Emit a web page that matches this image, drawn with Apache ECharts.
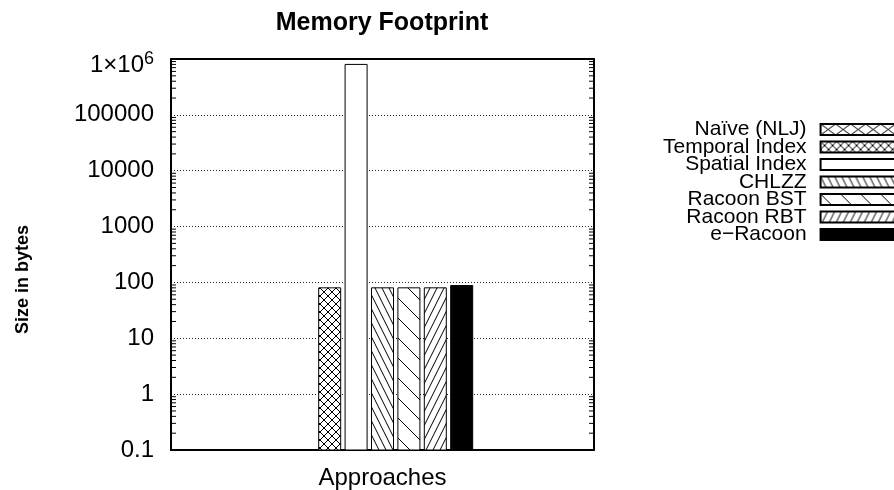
<!DOCTYPE html>
<html>
<head>
    <meta charset="utf-8" />
    <title>Memory Footprint</title>
    <style>
        html, body { margin: 0; padding: 0; background: #fff; }
    </style>
</head>
<body>
    <div id="main" style="width:894px;height:490px;"></div>
    <script src="https://cdn.jsdelivr.net/npm/echarts@6/dist/echarts.min.js"></script>
    <script type="text/javascript">
        // data
        var categories = ['Approaches'];
        var approaches = ['Naïve (NLJ)', 'Temporal Index', 'Spatial Index', 'CHLZZ', 'Racoon BST', 'Racoon RBT', 'e\u2212Racoon'];
        var sizes = [null, 80, 800000, 80, 80, 80, 88];   // bytes, Naïve has no bar
        var yTicks = [0.1, 1, 10, 100, 1000, 10000, 100000, 1000000];
        var minorSteps = [2, 3, 4, 5, 6, 7, 8, 9];

        var FONT = '"Liberation Sans", Arial, Helvetica, sans-serif';
        var BAR_W = 22, BAR_STEP = 26.4;

        // hatch tiles like gnuplot fill patterns
        function hatch(w, h, dirs) {
            var c = document.createElement('canvas');
            c.width = w; c.height = h;
            var g = c.getContext('2d');
            g.fillStyle = '#fff';
            g.fillRect(0, 0, w, h);
            g.strokeStyle = '#000';
            g.lineWidth = 1;
            dirs.forEach(function (d) {
                for (var k = -1; k <= 1; k++) {
                    g.beginPath();
                    if (d === '\\') { g.moveTo(k * w, 0); g.lineTo(k * w + w, h); }
                    else { g.moveTo(k * w + w, 0); g.lineTo(k * w, h); }
                    g.stroke();
                }
            });
            return { image: c, repeat: 'repeat' };
        }

        var fills = [
            hatch(15, 11, ['\\', '/']),
            hatch(8, 8, ['\\', '/']),
            '#fff',
            hatch(7, 14, ['\\']),
            hatch(20, 20, ['\\']),
            hatch(7, 14, ['/']),
            '#000'
        ];

        var minorTicks = [];
        yTicks.slice(0, -1).forEach(function (t) {
            minorSteps.forEach(function (m) { minorTicks.push([0, t * m]); });
        });

        var chart = echarts.init(document.getElementById('main'));

        // bars as custom rects so they start at the bottom of the log axis
        var series = approaches.map(function (name, i) {
            return {
                name: name,
                type: 'custom',
                data: sizes[i] == null ? [] : [[0, sizes[i]]],
                itemStyle: { color: fills[i], borderColor: '#000', borderWidth: 1 },
                renderItem: function (params, api) {
                    var top = api.coord([api.value(0), api.value(1)]);
                    var base = api.coord([api.value(0), yTicks[0]]);
                    var x = top[0] + (i - (approaches.length - 1) / 2) * BAR_STEP - BAR_W / 2;
                    return {
                        type: 'rect',
                        shape: { x: x, y: top[1], width: BAR_W, height: base[1] - top[1] },
                        style: api.style()
                    };
                }
            };
        });

        // log minor ticks on both sides of the frame
        series.push({
            type: 'custom',
            name: 'minor',
            silent: true,
            z: 5,
            data: minorTicks,
            renderItem: function (params, api) {
                var y = api.coord([0, api.value(1)])[1];
                var cs = params.coordSys;
                var st = { stroke: '#000', lineWidth: 1 };
                return {
                    type: 'group',
                    children: [
                        { type: 'line', shape: { x1: cs.x, y1: y, x2: cs.x + 5, y2: y }, style: st },
                        { type: 'line', shape: { x1: cs.x + cs.width - 5, y1: y, x2: cs.x + cs.width, y2: y }, style: st }
                    ]
                };
            }
        });

        var option = {
            animation: false,
            textStyle: { fontFamily: FONT, color: '#000' },
            title: {
                text: 'Memory Footprint',
                left: 382,
                textAlign: 'center',
                top: 11,
                padding: 0,
                textStyle: { fontFamily: FONT, fontSize: 25, fontWeight: 'bold', color: '#000' }
            },
            legend: {
                data: approaches,
                orient: 'vertical',
                align: 'right',
                left: 658,
                top: 114,
                icon: 'rect',
                itemWidth: 80,
                itemHeight: 11,
                itemGap: -3.5,
                textStyle: { fontFamily: FONT, fontSize: 21, color: '#000', padding: [0, 9, 0, 0] }
            },
            grid: { left: 171, top: 59, width: 423, height: 391 },
            xAxis: [{
                type: 'category',
                data: categories,
                position: 'bottom',
                axisLine: { onZero: false, lineStyle: { color: '#000', width: 2 } },
                axisTick: { inside: true, alignWithLabel: true, length: 9, lineStyle: { color: '#000' } },
                axisLabel: { fontFamily: FONT, fontSize: 24, color: '#000', margin: 16 }
            }, {
                type: 'category',
                data: categories,
                position: 'top',
                axisLine: { onZero: false, lineStyle: { color: '#000', width: 2 } },
                axisTick: { inside: true, alignWithLabel: true, length: 9, lineStyle: { color: '#000' } },
                axisLabel: { show: false }
            }],
            yAxis: [{
                type: 'log',
                logBase: 10,
                min: 0.1,
                max: 1000000,
                interval: 1,
                position: 'left',
                name: 'Size in bytes',
                nameLocation: 'middle',
                nameRotate: 90,
                nameGap: 139,
                nameTextStyle: { fontFamily: FONT, fontSize: 18, fontWeight: 'bold', color: '#000', padding: [0, 50, 0, 0] },
                axisLine: { show: true, lineStyle: { color: '#000', width: 2 } },
                axisTick: { inside: true, length: 9, lineStyle: { color: '#000' } },
                axisLabel: {
                    fontFamily: FONT, fontSize: 24, color: '#000', margin: 17,
                    formatter: function (v) {
                        if (v >= 999999) return '{s| }{b|1×10}{sup|6}';
                        if (v < 0.5) return '0.1';
                        return String(Math.round(v));
                    },
                    rich: {
                        s: { fontSize: 1, lineHeight: 36 },
                        b: { fontFamily: FONT, fontSize: 24, color: '#000', lineHeight: 24, verticalAlign: 'bottom' },
                        sup: { fontFamily: FONT, fontSize: 18, color: '#000', lineHeight: 30, verticalAlign: 'middle' }
                    }
                },
                splitLine: { show: true, lineStyle: { color: '#222', type: [1, 2], width: 1 } }
            }, {
                type: 'log',
                logBase: 10,
                min: 0.1,
                max: 1000000,
                interval: 1,
                position: 'right',
                axisLine: { show: true, lineStyle: { color: '#000', width: 2 } },
                axisTick: { inside: true, length: 9, lineStyle: { color: '#000' } },
                axisLabel: { show: false },
                splitLine: { show: false }
            }],
            series: series
        };

        chart.setOption(option);
    </script>
</body>
</html>
